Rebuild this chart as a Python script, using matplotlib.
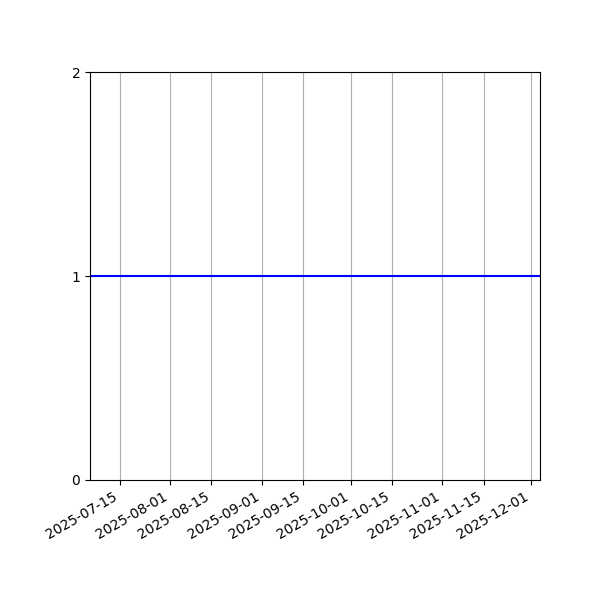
import matplotlib
matplotlib.use('Agg')
import matplotlib.pyplot as plt
import matplotlib.dates as mdates
import numpy as np

# data
dates = np.array(['2025-07-05', '2025-12-04'], dtype='datetime64[D]')
values = [1, 1]
y_ticks = [0, 1, 2]

fig, ax = plt.subplots(figsize=(6, 6), dpi=100)
ax.plot(dates, values, color='blue', linewidth=1.5)

ax.set_xlim(dates[0], dates[-1])
ax.set_ylim(0, 2)
ax.set_yticks(y_ticks)

ax.xaxis.set_major_locator(mdates.DayLocator(bymonthday=[1, 15]))
ax.xaxis.set_major_formatter(mdates.DateFormatter('%Y-%m-%d'))
ax.grid(axis='x')

fig.autofmt_xdate()
fig.subplots_adjust(left=0.15, right=0.9, top=0.88, bottom=0.2)
fig.savefig('out.png')
